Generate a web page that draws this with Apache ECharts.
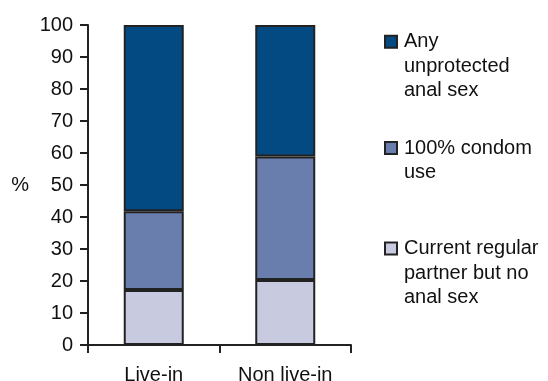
<!DOCTYPE html>
<html><head><meta charset="utf-8">
<script src="https://cdn.jsdelivr.net/npm/echarts@6/dist/echarts.min.js"></script>
<style>html,body{margin:0;padding:0;background:#fff}#c{width:548px;height:381px}</style>
</head><body><div id="c"></div>
<script>
const categories = ['Live-in', 'Non live-in'];
const seriesNames = ['Current regular\npartner but no\nanal sex', '100% condom\nuse', 'Any\nunprotected\nanal sex'];
const noAnalSex = [17.2, 20.3];
const condomUse = [24.6, 38.6];
const unprotected = [58.2, 41.1];
const yTicks = [0, 100, 10];

const FONT = 'Liberation Sans, Arial, sans-serif';
const TXT = '#111';
const LINE = '#222';
const LH = 24.5;
const SQ = 12;

// legend icon: square at top of a taller invisible box so it lines up with the first text line
function legendFor(name, centerY) {
  const n = name.split('\n').length;
  const h = SQ + (n - 1) * LH;
  return {
    data: [{ name: name, icon: 'path://M0,0h' + SQ + 'v' + SQ + 'h-' + SQ + 'zM' + (SQ + 2) + ',' + h }],
    orient: 'vertical', left: 384, top: centerY - SQ / 2 - (LH / 2 - SQ / 2), padding: 0,
    itemWidth: SQ + 2, itemHeight: h, itemGap: 0, selectedMode: false,
    textStyle: { fontFamily: FONT, fontSize: 20, color: TXT, lineHeight: LH }
  };
}

const chart = echarts.init(document.getElementById('c'), null, { renderer: 'canvas' });
const barStyle = c => ({ color: c, borderColor: LINE, borderWidth: 2 });
chart.setOption({
  animation: false,
  textStyle: { fontFamily: FONT },
  grid: { left: 88, right: 197, top: 25, bottom: 36, containLabel: false, outerBoundsMode: 'none' },
  legend: [
    legendFor(seriesNames[2], 41.7),
    legendFor(seriesNames[1], 148),
    legendFor(seriesNames[0], 248.5)
  ],
  xAxis: {
    type: 'category', data: categories,
    axisLine: { lineStyle: { color: LINE, width: 2 } },
    axisTick: { show: true, length: 8, lineStyle: { color: LINE, width: 2 } },
    axisLabel: { fontFamily: FONT, fontSize: 20, color: TXT, margin: 20 }
  },
  yAxis: {
    type: 'value', min: yTicks[0], max: yTicks[1], interval: yTicks[2],
    name: '%', nameLocation: 'middle', nameRotate: 0, nameGap: 59,
    nameTextStyle: { fontFamily: FONT, fontSize: 20, color: TXT },
    splitLine: { show: false },
    axisLine: { show: true, lineStyle: { color: LINE, width: 2 } },
    axisTick: { show: true, length: 8, lineStyle: { color: LINE, width: 2 } },
    axisLabel: { fontFamily: FONT, fontSize: 20, color: TXT, margin: 15 }
  },
  series: [
    { name: seriesNames[0], type: 'bar', stack: 's', data: noAnalSex, barWidth: 60, itemStyle: barStyle('#c8cae0') },
    { name: seriesNames[1], type: 'bar', stack: 's', data: condomUse, barWidth: 60, itemStyle: barStyle('#6a7eae') },
    { name: seriesNames[2], type: 'bar', stack: 's', data: unprotected, barWidth: 60, itemStyle: barStyle('#034a82') }
  ]
});
</script></body></html>
